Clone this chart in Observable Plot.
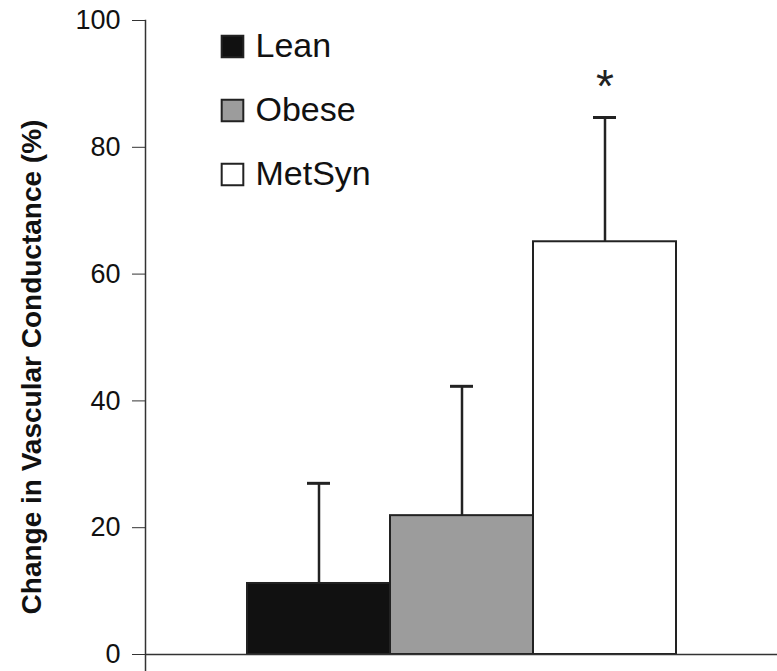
<!DOCTYPE html>
<html>
<head>
<meta charset="utf-8">
<script src="https://cdn.jsdelivr.net/npm/d3@7"></script>
<script src="https://cdn.jsdelivr.net/npm/@observablehq/plot@0.6"></script>
<style>
  html, body { margin: 0; padding: 0; background: #fff; }
  #chart svg { font-family: "Liberation Sans", Arial, sans-serif; }
</style>
</head>
<body>
<div id="chart"></div>
<script>
const groups = ["Lean", "Obese", "MetSyn"];
const means = [11.2, 21.9, 65.1];
const errors = [15.8, 20.4, 19.6];
const fills = ["#111111", "#9c9c9c", "#ffffff"];
const yTicks = [0, 20, 40, 60, 80, 100];
const yLabel = "Change in Vascular Conductance (%)";
const sigMarks = [{group: "MetSyn", y: 89.5, label: "*"}];

const data = groups.map((g, i) => ({group: g, mean: means[i], top: means[i] + errors[i], fill: fills[i]}));

const legendMarks = groups.flatMap((g, i) => [
  Plot.dot([g], {frameAnchor: "top-left", dx: 87, dy: 26 + i * 64, symbol: "square", r: 12.2,
    fill: fills[i], stroke: "#222", strokeWidth: 2}),
  Plot.text([g], {frameAnchor: "top-left", dx: 110, dy: 26 + i * 64, text: d => d, textAnchor: "start",
    lineAnchor: "middle", fontSize: 34, fill: "#111"})
]);

const chart = Plot.plot({
  width: 777,
  height: 671,
  marginLeft: 145,
  marginRight: 0,
  marginTop: 20,
  marginBottom: 0,
  style: {fontFamily: "'Liberation Sans', Arial, sans-serif", background: "#fff", color: "#222"},
  x: {domain: groups, range: [247, 676], padding: 0, axis: null},
  y: {domain: [0, 100], range: [654, 20]},
  marks: [
    Plot.frame({anchor: "left", stroke: "#333", strokeWidth: 1.5}),
    Plot.ruleX(data, {x: "group", y1: "mean", y2: "top", stroke: "#222", strokeWidth: 2.5}),
    Plot.tickY(data, {x: "group", y: "top", stroke: "#222", strokeWidth: 3, insetLeft: 60, insetRight: 60}),
    Plot.barY(data, {x: "group", y: "mean", fill: "fill", stroke: "#222", strokeWidth: 2}),
    Plot.ruleY([0], {stroke: "#333", strokeWidth: 1.5}),
    Plot.axisY({ticks: yTicks, tickSize: 13, tickPadding: 12, fontSize: 27, label: null, stroke: "#333", fill: "#111"}),
    Plot.text([yLabel], {frameAnchor: "left", dx: -113, dy: 21, rotate: -90, text: d => d,
      textAnchor: "middle", lineAnchor: "middle",
      fontSize: 28, fontWeight: "bold", fill: "#111"}),
    Plot.text(sigMarks, {x: "group", y: "y", text: "label", fontSize: 46, fill: "#222"}),
    ...legendMarks
  ]
});
document.getElementById("chart").append(chart);
</script>
</body>
</html>
